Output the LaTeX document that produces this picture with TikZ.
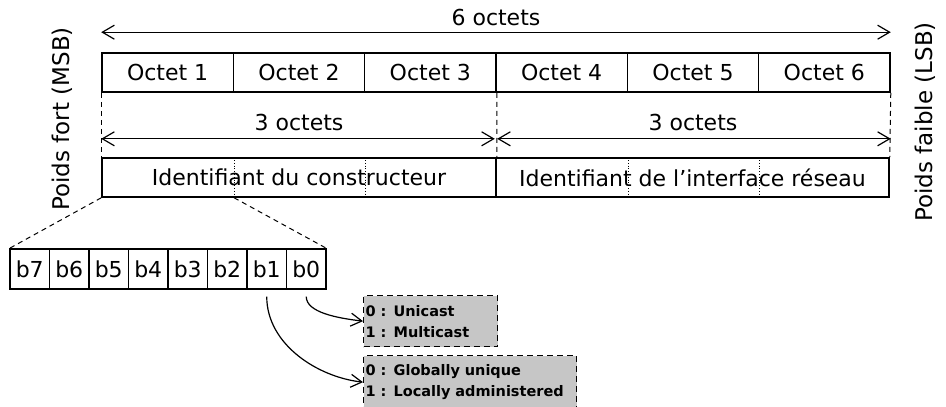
\documentclass[tikz,border=0pt]{standalone}
\usepackage{fontspec}
\setmainfont{DejaVu Sans}
\usetikzlibrary{arrows.meta,positioning}
\definecolor{boxgray}{RGB}{198,198,198}
\tikzset{
  cell/.style={draw, line width=1.6pt, inner sep=0pt, minimum height=39pt, font=\fontsize{22}{25}\selectfont},
  bitcell/.style={draw, line width=1.2pt, inner sep=0pt, minimum width=39.5pt, minimum height=40pt, font=\fontsize{22}{25}\selectfont},
  dimarrow/.style={line width=1.2pt, {Straight Barb[length=12pt,width=14pt]}-{Straight Barb[length=12pt,width=14pt]}},
  dimlabel/.style={inner sep=2pt, font=\fontsize{22}{25}\selectfont},
  guide/.style={line width=1pt, dash pattern=on 5pt off 4pt},
  split/.style={line width=0.8pt, dotted},
  infobox/.style={draw, fill=boxgray, line width=1.3pt, dash pattern=on 6pt off 4pt, anchor=north west,
    align=left, inner xsep=2pt, inner ysep=0pt, font=\fontsize{14.5}{21}\selectfont\bfseries},
  curvearrow/.style={line width=1.2pt, -{Straight Barb[length=11pt,width=13pt]}},
  sidelabel/.style={rotate=90, inner sep=0pt, font=\fontsize{23}{26}\selectfont}
}
\begin{document}
\begin{tikzpicture}[x=1pt, y=-1pt]
\clip (0,0) rectangle (946,407);

% six octets of the address
\foreach \k in {1,...,6}{
  \node[cell, minimum width=131.33pt] (o\k) at ({102+131.33*(\k-0.5)}, 72.5) {Octet \k};
}

% manufacturer and interface identifiers
\node[cell, minimum width=394pt] (oui) at (299, 177.5) {Identifiant du constructeur};
\node[cell, minimum width=393pt] (nic) at (692.5, 177.5) {Identifiant de l’interface réseau};

% octet boundaries inside the two halves
\draw[split] (o1.south east |- oui.north) -- (o1.south east |- oui.south);
\draw[split] (o2.south east |- oui.north) -- (o2.south east |- oui.south);
\draw[split] (o4.south east |- nic.north) -- (o4.south east |- nic.south);
\draw[split] (o5.south east |- nic.north) -- (o5.south east |- nic.south);

% guides between the rows
\draw[guide] (o1.south west) -- (oui.north west);
\draw[guide] (o3.south east) -- (oui.north east);
\draw[guide] (o6.south east) -- (nic.north east);

% dimension arrows
\draw[dimarrow] ([yshift=20pt]o1.north west) -- ([yshift=20pt]o6.north east)
  node[dimlabel, midway, above=4pt] {6 octets};
\draw[dimarrow, shorten >=2pt] ([yshift=-46pt]o1.south west) -- ([yshift=-46pt]o3.south east)
  node[dimlabel, midway, above=5pt] {3 octets};
\draw[dimarrow, shorten <=2pt] ([yshift=-46pt]o4.south west) -- ([yshift=-46pt]o6.south east)
  node[dimlabel, midway, above=5pt] {3 octets};

% side labels
\node[sidelabel] (msb) at (62, 119) {Poids fort (MSB)};
\node[sidelabel] (lsb) at (925, 122) {Poids faible (LSB)};

% bits of the first octet
\foreach \b [count=\i from 0] in {7,6,5,4,3,2,1,0}{
  \node[bitcell] (b\b) at ({10+39.5*(\i+0.5)}, 269) {b\b};
}

% zoom lines from the first octet to its bits
\draw[guide] (oui.south west) -- (b7.north west);
\draw[guide] (o1.south east |- oui.south) -- (b0.north east);

% meaning of bits b0 and b1
\node[infobox, text width=130pt, minimum height=51pt] (cast) at (363, 295)
  {0 : Unicast\\1 : Multicast};
\node[infobox, text width=209pt, minimum height=53pt] (scope) at (363, 355)
  {0 : Globally unique\\1 : Locally administered};

\draw[curvearrow] ([yshift=-7pt]b0.south) .. controls +(0,16) and +(-25,-3) .. (cast.west);
\draw[curvearrow] ([yshift=-7pt]b1.south) .. controls +(0,48) and +(-45,-5) .. (scope.west);
\end{tikzpicture}
\end{document}
